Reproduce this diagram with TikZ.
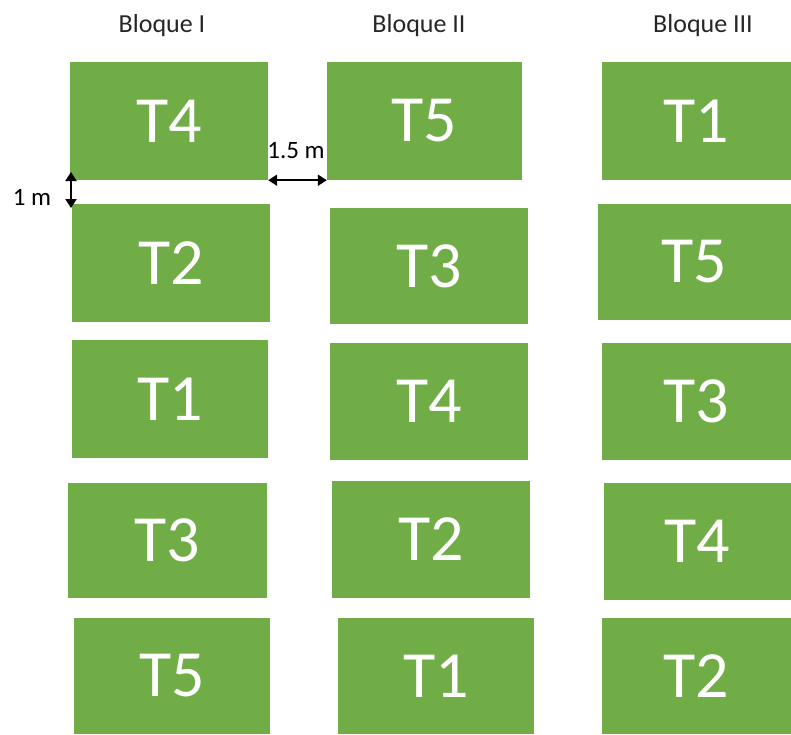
\documentclass[tikz,border=0pt]{standalone}
\usepackage{fontspec}
\setmainfont{Carlito}
\usetikzlibrary{arrows.meta}
\definecolor{plotgreen}{HTML}{70AD47}
\definecolor{labelgray}{HTML}{262626}
\tikzset{
  plotbox/.style={fill=plotgreen, draw=none, inner sep=0pt, text=white,
    font=\fontsize{66}{66}\selectfont},
  heading/.style={anchor=base, text=labelgray, inner sep=0pt,
    font=\fontsize{26}{26}\selectfont},
  dimlabel/.style={anchor=base, text=black, inner sep=0pt,
    font=\fontsize{25}{25}\selectfont},
  dimarrow/.style={line width=2pt, {Triangle[width=11pt,length=9pt]}-{Triangle[width=11pt,length=9pt]}}
}
\newcommand{\plot}[6]{% name, cx, cy, w, h, label
  \node[plotbox, minimum width=#4pt, minimum height=#5pt] (#1) at (#2,#3) {#6};}
\begin{document}
\begin{tikzpicture}[x=1pt, y=-1pt]
\useasboundingbox (0,0) rectangle (791,734);
% block headings
\node[heading] (h1) at (162,32) {Bloque I};
\node[heading] (h2) at (419,32) {Bloque II};
\node[heading] (h3) at (703,32) {Bloque III};
% Bloque I
\plot{a1}{169}{121}{198}{118}{T4}
\plot{a2}{171}{263}{198}{118}{T2}
\plot{a3}{170}{399}{196}{118}{T1}
\plot{a4}{167.5}{540.5}{199}{115}{T3}
\plot{a5}{172}{676}{196}{116}{T5}
% Bloque II
\plot{b1}{424.5}{121}{195}{118}{T5}
\plot{b2}{429}{266}{198}{116}{T3}
\plot{b3}{429}{401.5}{198}{117}{T4}
\plot{b4}{431}{539.5}{198}{117}{T2}
\plot{b5}{436}{676}{196}{116}{T1}
% Bloque III
\plot{c1}{696.5}{121}{189}{118}{T1}
\plot{c2}{694.5}{262}{193}{116}{T5}
\plot{c3}{696.5}{401.5}{189}{117}{T3}
\plot{c4}{697.5}{541.5}{187}{117}{T4}
\plot{c5}{696.5}{676}{189}{116}{T2}
% spacing between blocks
\draw[dimarrow] (a1.south east) -- (b1.south west);
\node[dimlabel] (l15) at (296,158) {1.5 m};
% spacing between plots
\coordinate (v1) at (71,172);
\coordinate (v2) at (71,208);
\draw[dimarrow] (v1) -- (v2);
\node[dimlabel] (l1) at (32,205) {1 m};
\end{tikzpicture}
\end{document}
